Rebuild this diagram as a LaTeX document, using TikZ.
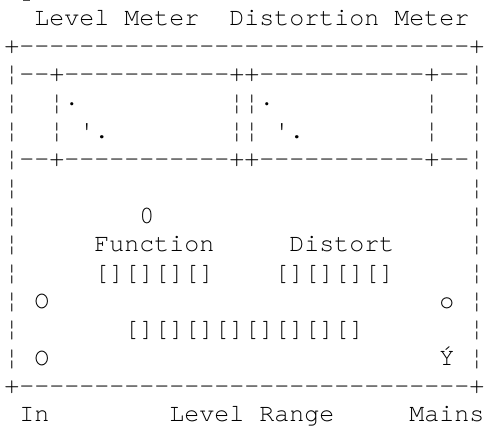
\documentclass[tikz,border=0pt]{standalone}
\usepackage{fontspec}
\setmonofont{TeX Gyre Cursor}
\ExplSyntaxOn
\NewDocumentCommand\Rep{mm}{\prg_replicate:nn{#1}{#2}}
\ExplSyntaxOff
\newcommand\trim{\kern-3pt}
\tikzset{
  row/.style={anchor=base west, inner sep=0pt, outer sep=0pt,
    font=\ttfamily\fontsize{25pt}{28.35pt}\selectfont, text=black},
  topstub/.style={line width=1.2pt, draw=black!70}
}
\begin{document}
\begin{tikzpicture}[x=1pt,y=-1pt]
\useasboundingbox (0,0) rectangle (485,429);
\def\lx{4.5}
\node[row] (r0)  at (\lx, 25.00) {\Rep{2}{~}Level~Meter~~Distortion~Meter};
\node[row] (r1)  at (\lx, 53.35) {+\Rep{30}{-}+\trim};
\node[row] (r2)  at (\lx, 81.70) {¦--+\Rep{11}{-}++\Rep{11}{-}+--¦\trim};
\node[row] (r3)  at (\lx,110.05) {¦~~¦·\Rep{10}{~}¦¦·\Rep{10}{~}¦~~¦\trim};
\node[row] (r4)  at (\lx,138.40) {¦~~¦~'.\Rep{8}{~}¦¦~'.\Rep{8}{~}¦~~¦\trim};
\node[row] (r5)  at (\lx,166.75) {¦--+\Rep{11}{-}++\Rep{11}{-}+--¦\trim};
\node[row] (r6)  at (\lx,195.10) {¦\Rep{30}{~}¦\trim};
\node[row] (r7)  at (\lx,223.45) {¦\Rep{8}{~}0\Rep{21}{~}¦\trim};
\node[row] (r8)  at (\lx,251.80) {¦\Rep{5}{~}Function\Rep{5}{~}Distort\Rep{5}{~}¦\trim};
\node[row] (r9)  at (\lx,280.15) {¦\Rep{5}{~}[][][][]\Rep{4}{~}[][][][]\Rep{5}{~}¦\trim};
\node[row] (r10) at (\lx,308.50) {¦~O\Rep{26}{~}o~¦\trim};
\node[row] (r11) at (\lx,336.85) {¦\Rep{7}{~}[][][][][][][][]\Rep{7}{~}¦\trim};
\node[row] (r12) at (\lx,365.20) {¦~O\Rep{26}{~}Ý~¦\trim};
\node[row] (r13) at (\lx,393.55) {+\Rep{30}{-}+\trim};
\node[row] (r14) at (\lx,421.90) {~In\Rep{8}{~}Level~Range\Rep{5}{~}Mains\trim};
\coordinate (ma) at (23,0.6);
\coordinate (mb) at (30,0.6);
\draw[topstub] (ma) -- (mb);
\end{tikzpicture}
\end{document}
